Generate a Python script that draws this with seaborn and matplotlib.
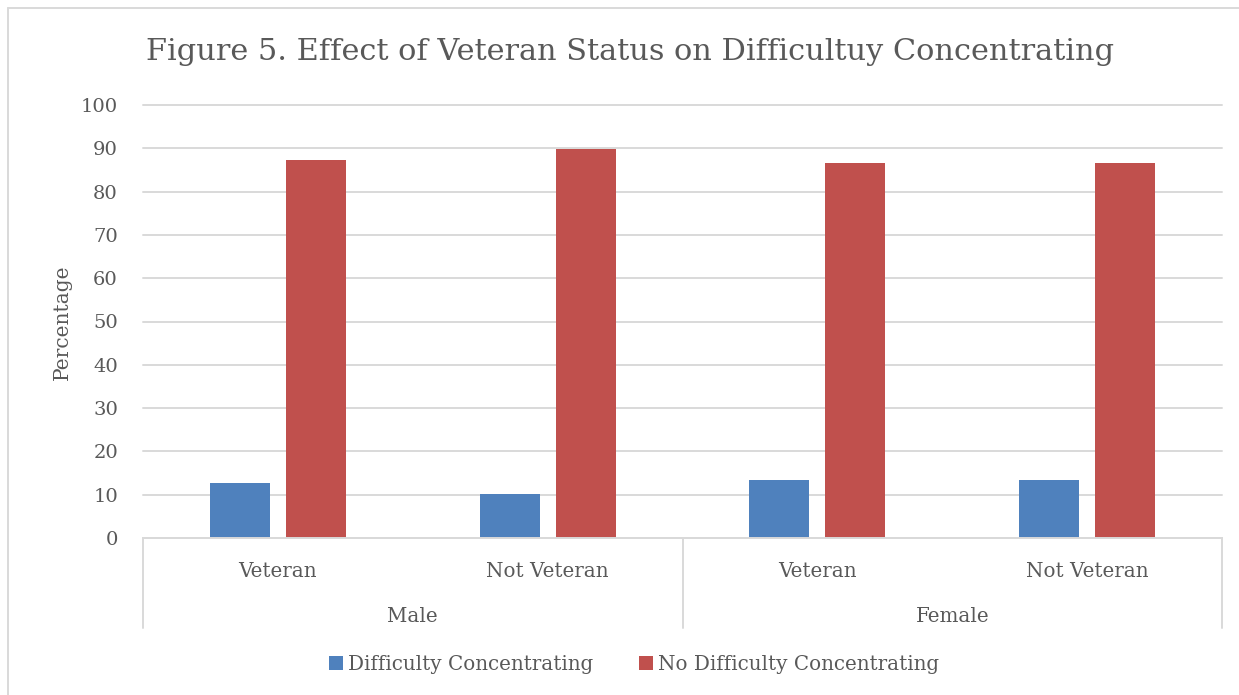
import matplotlib
matplotlib.use("Agg")
import matplotlib.pyplot as plt
import seaborn as sns
import pandas as pd
from matplotlib.lines import Line2D
from matplotlib.patches import Patch
import matplotlib.transforms as mtransforms

# ---- data ----
genders = ["Male", "Male", "Female", "Female"]
statuses = ["Veteran", "Not Veteran", "Veteran", "Not Veteran"]
difficulty = [12.6, 10.1, 13.5, 13.5]
no_difficulty = [87.4, 89.9, 86.5, 86.5]
series_names = ["Difficulty Concentrating", "No Difficulty Concentrating"]
title_text = "Figure 5. Effect of Veteran Status on Difficultuy Concentrating"
y_label = "Percentage"
y_ticks = [0, 10, 20, 30, 40, 50, 60, 70, 80, 90, 100]

keys = [f"{g}|{s}" for g, s in zip(genders, statuses)]
rows = []
for k, d, n in zip(keys, difficulty, no_difficulty):
    rows.append((k, series_names[0], d))
    rows.append((k, series_names[1], n))
df = pd.DataFrame(rows, columns=["group", "series", "value"])

# ---- style ----
W, H = 1239, 695
sns.set_theme(style="white")
plt.rcParams["font.family"] = ["DejaVu Serif", "DejaVu Sans"]
TXT = "#595959"
GRID = "#d9d9d9"
colors = ["#4F81BD", "#C0504D"]

fig = plt.figure(figsize=(W / 100, H / 100), dpi=100)
fig.patch.set_facecolor("white")

ax_l, ax_r, ax_b, ax_t = 143, 1222, 538, 105
ax = fig.add_axes([ax_l / W, 1 - ax_b / H, (ax_r - ax_l) / W, (ax_b - ax_t) / H])

sns.barplot(data=df, x="group", y="value", hue="series", order=keys,
            hue_order=series_names, palette=colors, width=0.5635, gap=0.21,
            ax=ax, legend=False, linewidth=0, saturation=1)

ax.set_xlim(-0.5, len(keys) - 0.5)
ax.set_ylim(0, 100)
ax.set_yticks(y_ticks)
ax.set_yticklabels([str(t) for t in y_ticks])
ax.yaxis.grid(True, color=GRID, linewidth=1.4)
for gl in ax.get_ygridlines():
    gl.set_clip_on(False)
ax.set_axisbelow(True)
for side in ["top", "right", "left"]:
    ax.spines[side].set_visible(False)
ax.spines["bottom"].set_color(GRID)
ax.spines["bottom"].set_linewidth(1.4)
ax.tick_params(axis="y", length=0, pad=18, labelsize=14, labelcolor=TXT)
ax.tick_params(axis="x", length=0, pad=17, labelsize=14.3, labelcolor=TXT)
ax.set_xticks(range(len(keys)))
ax.set_xticklabels(statuses)
ax.set_xlabel("")
ax.set_ylabel("")

# two-level category axis: group labels and separators
trans = mtransforms.blended_transform_factory(ax.transData, ax.transAxes)
sep_depth = (628 - ax_b) / (ax_b - ax_t)
group_names = []
for g in genders:
    if g not in group_names:
        group_names.append(g)
bounds = [-0.5]
for g in group_names:
    idx = [i for i, gg in enumerate(genders) if gg == g]
    centre = (idx[0] + idx[-1]) / 2
    ax.annotate(g, xy=(centre, 0), xycoords=trans, xytext=(0, -(616 - ax_b) * 0.72),
                textcoords="offset points", ha="center", va="center",
                fontsize=14.3, color=TXT)
    bounds.append(idx[-1] + 0.5)
for b in bounds:
    ax.add_line(Line2D([b, b], [0, -sep_depth], transform=trans, color=GRID,
                       linewidth=1.4, clip_on=False))

# title and y label
fig.text(630 / W, 1 - 52 / H, title_text, ha="center", va="center",
         fontsize=21.9, color=TXT)
fig.text(62 / W, 1 - 322 / H, y_label, rotation=90, ha="center", va="center",
         fontsize=14.5, color=TXT)

# legend
handles = [Patch(facecolor=c, edgecolor="none") for c in colors]
fig.legend(handles, series_names, loc="center", bbox_to_anchor=(634 / W, 1 - 664 / H),
           ncol=2, frameon=False, fontsize=14.3, labelcolor=TXT,
           handlelength=0.7, handleheight=0.7, handletextpad=0.25, columnspacing=2.3)

# chart border (left and top visible)
fig.add_artist(Line2D([8 / W, 8 / W], [0, 1 - 8 / H], transform=fig.transFigure,
                      color=GRID, linewidth=1.4))
fig.add_artist(Line2D([8 / W, 1], [1 - 8 / H, 1 - 8 / H], transform=fig.transFigure,
                      color=GRID, linewidth=1.4))

fig.savefig("out.png", dpi=100, facecolor="white")
